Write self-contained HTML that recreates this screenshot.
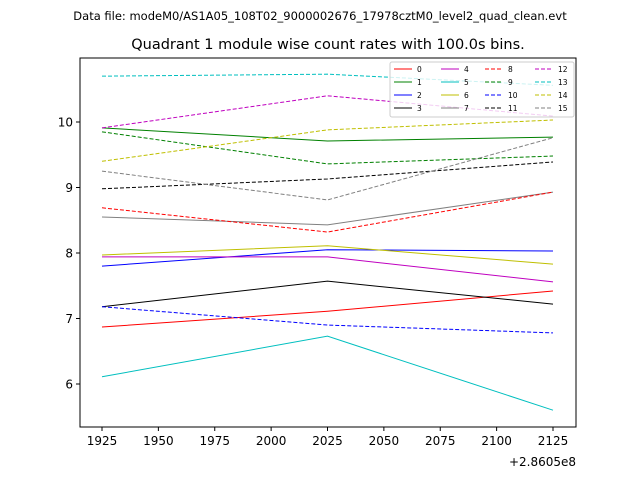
<!DOCTYPE html>
<html><head><meta charset="utf-8"><style>
body{margin:0;background:#fff;font-family:"DejaVu Sans","Liberation Sans",sans-serif;}
svg text{font-family:"DejaVu Sans","Liberation Sans",sans-serif;}
</style></head><body>
<svg id="chart" width="640" height="480" xmlns="http://www.w3.org/2000/svg">
<rect width="640" height="480" fill="#fff"/>
<text x="320" y="20" font-size="11.5" text-anchor="middle">Data file: modeM0/AS1A05_108T02_9000002676_17978cztM0_level2_quad_clean.evt</text>
<text x="328" y="49" font-size="14.5" text-anchor="middle">Quadrant 1 module wise count rates with 100.0s bins.</text>
<g id="plot"></g>
</svg>
<script>
const xValues=[1925,2025,2125];
const xTicks=[1925,1950,1975,2000,2025,2050,2075,2100,2125];
const yTicks=[6,7,8,9,10];
const seriesNames=["0","1","2","3","4","5","6","7","8","9","10","11","12","13","14","15"];
const s0=[6.87,7.11,7.42];
const s1=[9.91,9.71,9.77];
const s2=[7.80,8.05,8.03];
const s3=[7.18,7.57,7.22];
const s4=[7.94,7.94,7.56];
const s5=[6.11,6.73,5.60];
const s6=[7.97,8.11,7.83];
const s7=[8.55,8.43,8.93];
const s8=[8.69,8.32,8.93];
const s9=[9.85,9.36,9.48];
const s10=[7.18,6.90,6.78];
const s11=[8.98,9.13,9.39];
const s12=[9.91,10.40,10.09];
const s13=[10.70,10.73,10.56];
const s14=[9.40,9.88,10.03];
const s15=[9.25,8.81,9.76];
const seriesValues=[s0,s1,s2,s3,s4,s5,s6,s7,s8,s9,s10,s11,s12,s13,s14,s15];
const colors=["#ff0000","#008000","#0000ff","#000000","#bf00bf","#00bfbf","#bfbf00","#808080"];
const L=80,R=576,T=58,B=427;
const xS=v=>102+(v-1925)*(553-102)/200;
const yS=v=>122+(10-v)*65.5;
const NS="http://www.w3.org/2000/svg";
const g=document.getElementById('plot');
function mk(t,a,p){const e=document.createElementNS(NS,t);for(const k in a)e.setAttribute(k,a[k]);(p||g).appendChild(e);return e;}
seriesValues.forEach((vals,i)=>{
 const pts=vals.map((v,j)=>xS(xValues[j])+','+yS(v)).join(' ');
 const e=mk('polyline',{points:pts,fill:'none',stroke:colors[i%8],'stroke-width':1,'stroke-dasharray':i>=8?'4,2':'none'});
 
 
});
const ax=mk('rect',{x:L,y:T,width:R-L,height:B-T,fill:'none',stroke:'#000','stroke-width':1});


xTicks.forEach(t=>{
 const x=xS(t);
 mk('line',{x1:x,x2:x,y1:B,y2:B+4,stroke:'#000'});
 const tx=mk('text',{x:x,y:B+18,'font-size':12,'text-anchor':'middle'});tx.textContent=t;
 
 
});
const off=mk('text',{x:576,y:466,'font-size':12,'text-anchor':'end'});off.textContent='+2.8605e8';


yTicks.forEach(t=>{
 const y=yS(t);
 mk('line',{x1:L-4,x2:L,y1:y,y2:y,stroke:'#000'});
 const tx=mk('text',{x:L-7,y:y+4.5,'font-size':12,'text-anchor':'end'});tx.textContent=t;
 
 
});
const lg=mk('g',{});


mk('rect',{x:390,y:62,width:184,height:55,rx:2,fill:'#fff','fill-opacity':0.8,stroke:'#ccc'},lg);
const colX=[394,441,485,535];
seriesNames.forEach((n,i)=>{
 const c=Math.floor(i/4),r=i%4;const x=colX[c],y=69+r*13;
 mk('line',{x1:x,x2:x+18,y1:y,y2:y,stroke:colors[i%8],'stroke-dasharray':i>=8?'4,2':'none'},lg);
 const tx=mk('text',{x:x+23,y:y+3,'font-size':7.5},lg);tx.textContent=n;
 
 
});
</script>
</body></html>
